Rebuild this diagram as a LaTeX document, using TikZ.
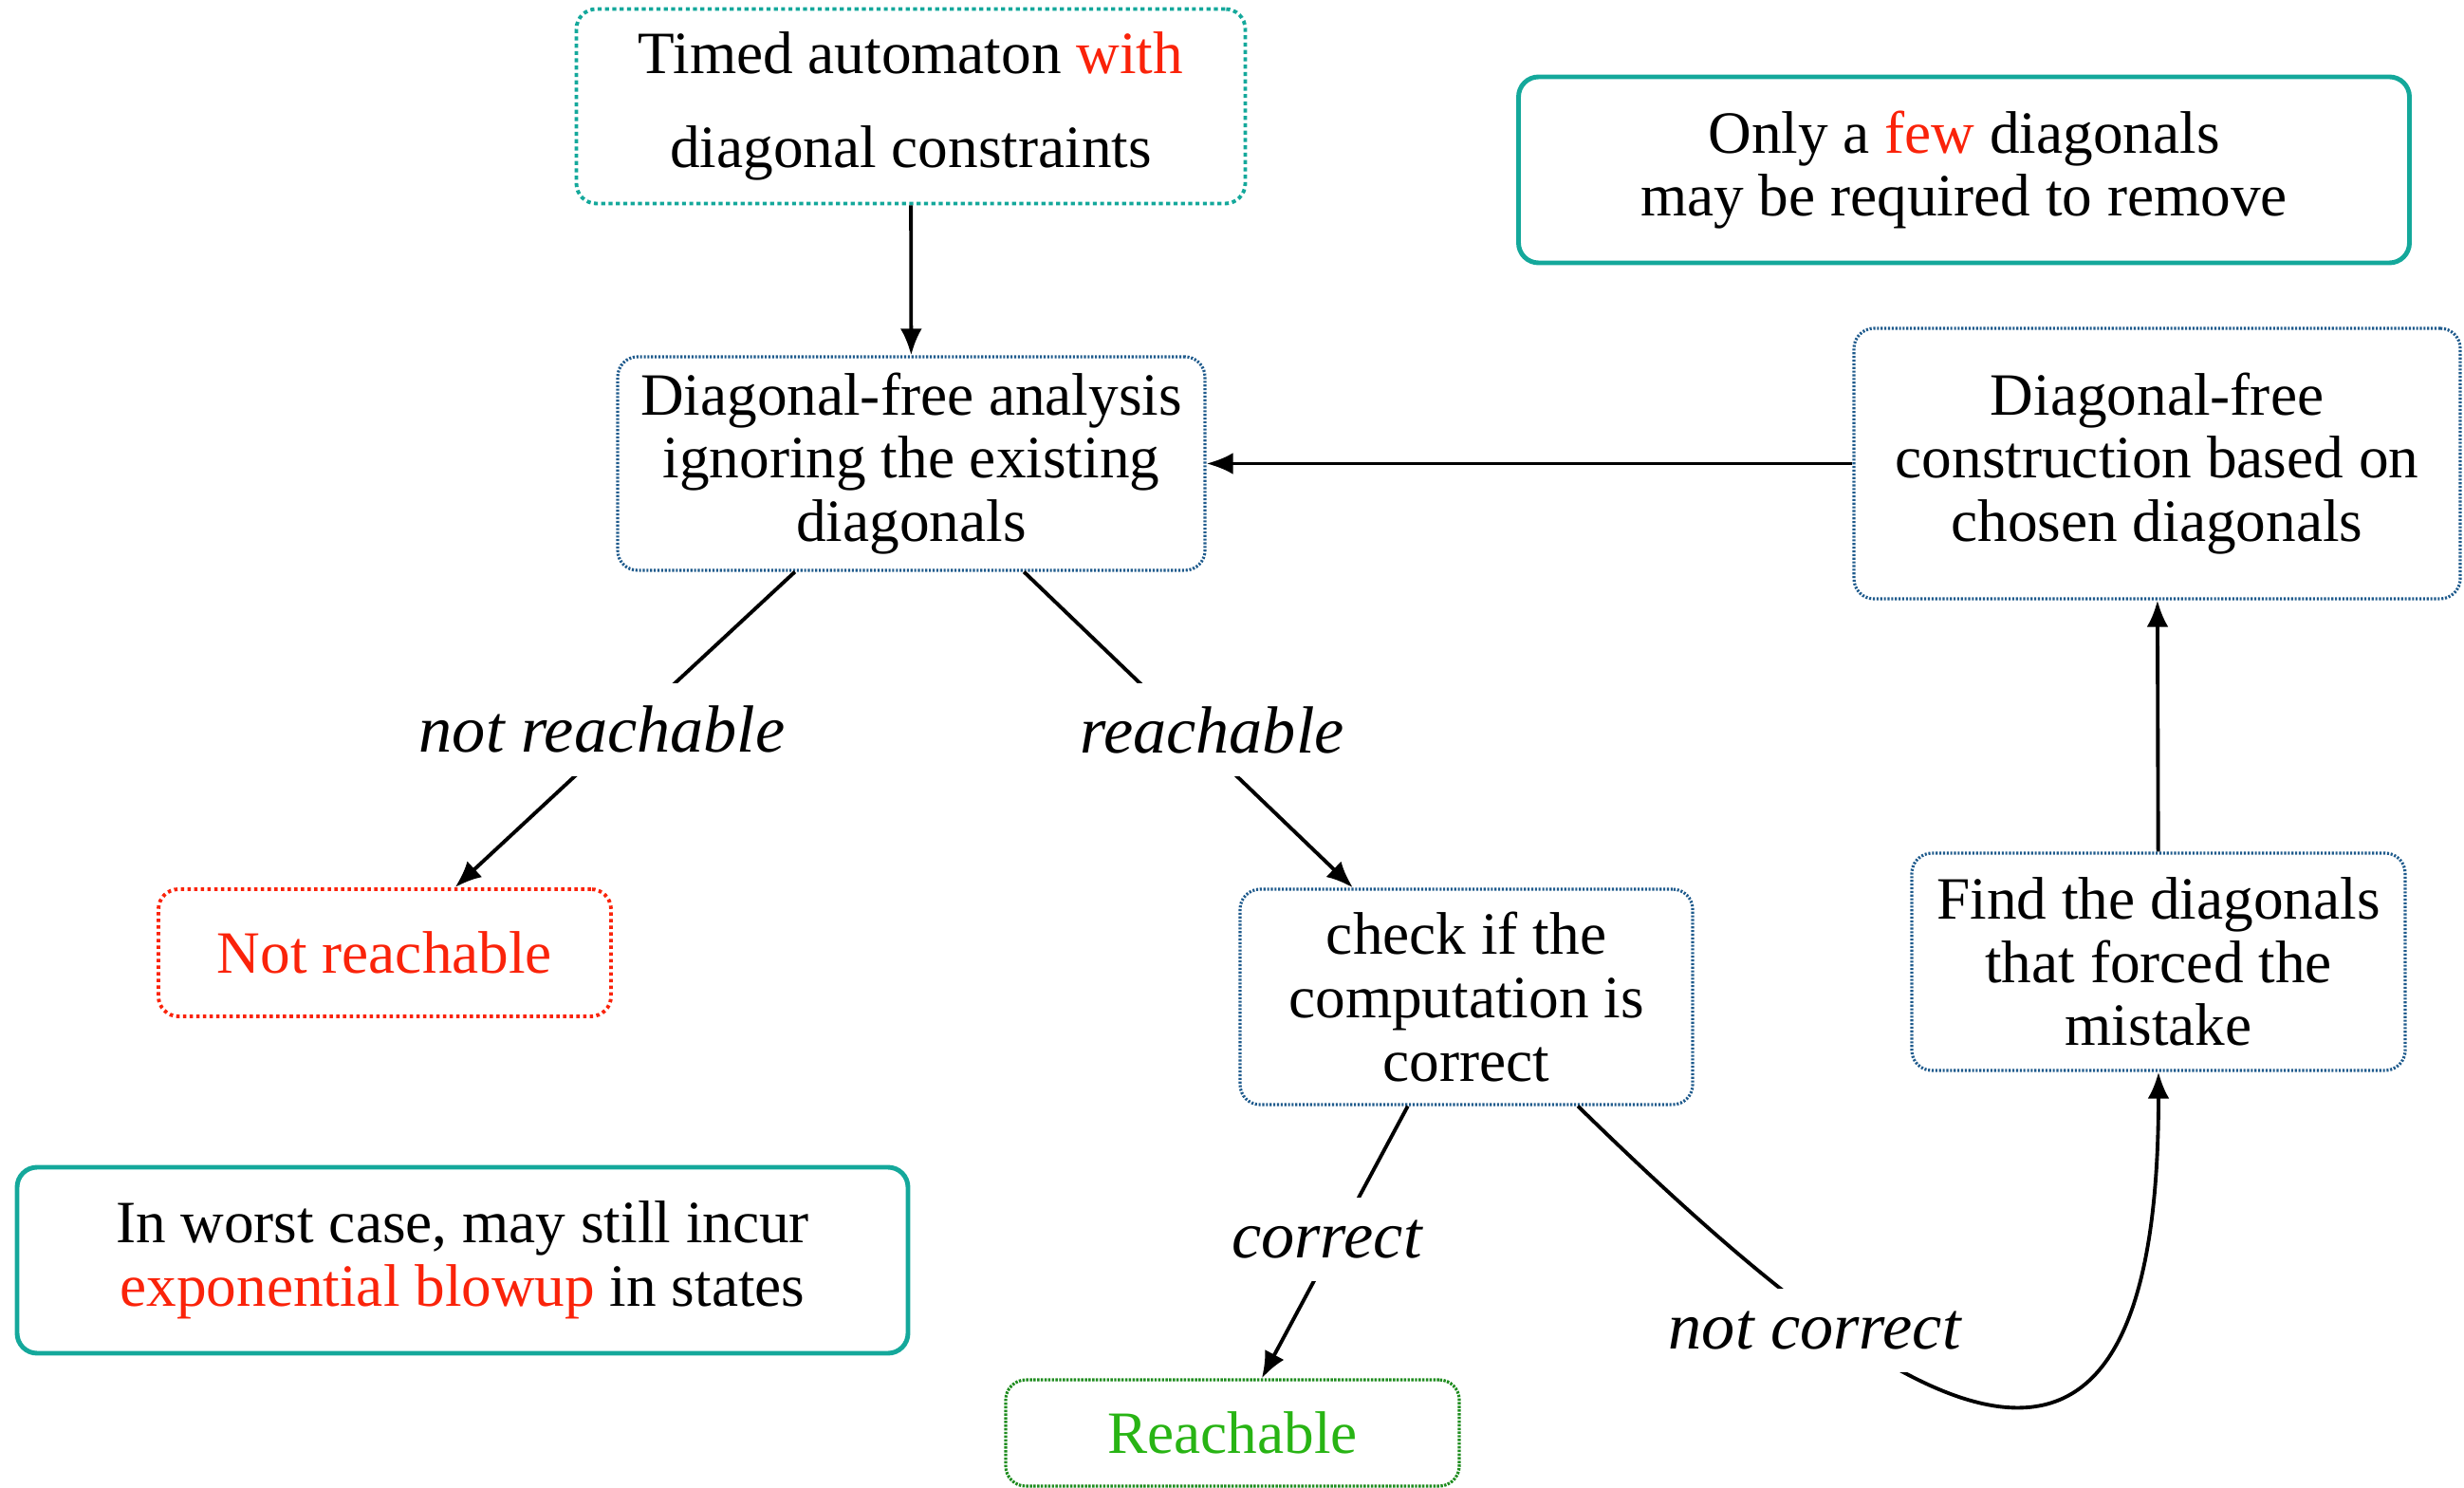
\documentclass[tikz,border=0pt]{standalone}
\usepackage{fontspec}
\setmainfont{Liberation Serif}
\usetikzlibrary{arrows.meta}

\definecolor{tealc}{RGB}{20,168,155}
\definecolor{bluec}{RGB}{30,90,140}
\definecolor{redc}{RGB}{250,35,10}
\definecolor{greenc}{RGB}{30,140,30}
\definecolor{greent}{RGB}{40,180,20}

\begin{document}
\begin{tikzpicture}[>={Latex[length=8pt,width=6.5pt]}, line width=1.1pt]

\useasboundingbox (0, 0) rectangle (25.97, -15.68);

% set style here
\tikzstyle{box}=[rounded corners=6pt, align=center, inner sep=2pt, font=\fontsize{18}{19}\selectfont]
\tikzstyle{tealdash}=[box, draw=tealc, line width=1.1pt, dash pattern=on 1.2pt off 1pt]
\tikzstyle{tealbox}=[box, draw=tealc, line width=1.4pt]
\tikzstyle{bluebox}=[box, draw=bluec, line width=0.9pt, dash pattern=on 0.6pt off 0.5pt]
\tikzstyle{redbox}=[box, draw=redc, line width=1.1pt, dash pattern=on 1pt off 1pt, text=redc]
\tikzstyle{greenbox}=[box, draw=greenc, line width=0.9pt, dash pattern=on 0.7pt off 0.4pt, text=greent]
\tikzstyle{lbl}=[fill=white, inner xsep=2pt, inner ysep=0.24cm, font=\fontsize{20}{22}\selectfont\itshape]
%
\node (top) at (9.60, -1.12) [tealdash, minimum width=7.05cm, minimum height=2.05cm]
  {Timed automaton \textcolor{redc}{with}\\[9pt] diagonal constraints};
\node (few) at (20.70, -1.79) [tealbox, minimum width=9.39cm, minimum height=1.96cm]
  {Only a \textcolor{redc}{few} diagonals\\ may be required to remove};
\node (an) at (9.605, -4.885) [bluebox, minimum width=6.19cm, minimum height=2.25cm]
  {Diagonal-free analysis\\ ignoring the existing\\ diagonals};
\node (con) at (22.735, -4.885) [bluebox, minimum width=6.39cm, minimum height=2.85cm]
  {Diagonal-free\\ construction based on\\ chosen diagonals};
\node (nr) at (4.055, -10.04) [redbox, minimum width=4.77cm, minimum height=1.34cm] {Not reachable};
\node (chk) at (15.455, -10.505) [bluebox, minimum width=4.77cm, minimum height=2.27cm]
  {check if the\\ computation is\\ correct};
\node (find) at (22.75, -10.135) [bluebox, minimum width=5.20cm, minimum height=2.29cm]
  {Find the diagonals\\ that forced the\\ mistake};
\node (worst) at (4.875, -13.28) [tealbox, minimum width=9.39cm, minimum height=1.96cm]
  {In worst case, may still incur\\ \textcolor{redc}{exponential blowup} in states};
\node (rch) at (12.99, -15.10) [greenbox, minimum width=4.78cm, minimum height=1.12cm] {Reachable};

\draw[->] (top) -- (an);
\draw[->] (con) -- (an);
\draw[->] (an) -- node[lbl, pos=0.5, xshift=-0.24cm] {not reachable} (nr);
\draw[->] (an) -- node[lbl, pos=0.5, xshift=0.25cm] {reachable} (chk);
\draw[->] (chk) -- node[lbl, pos=0.49, xshift=-0.1cm] {correct} (rch);
\draw[->] (chk) .. controls (19.87, -14.82) and (22.75, -16.89) .. node[lbl, pos=0.27, yshift=-0.17cm] {not correct} (find);
\draw[->] (find) -- (con);

\end{tikzpicture}
\end{document}
